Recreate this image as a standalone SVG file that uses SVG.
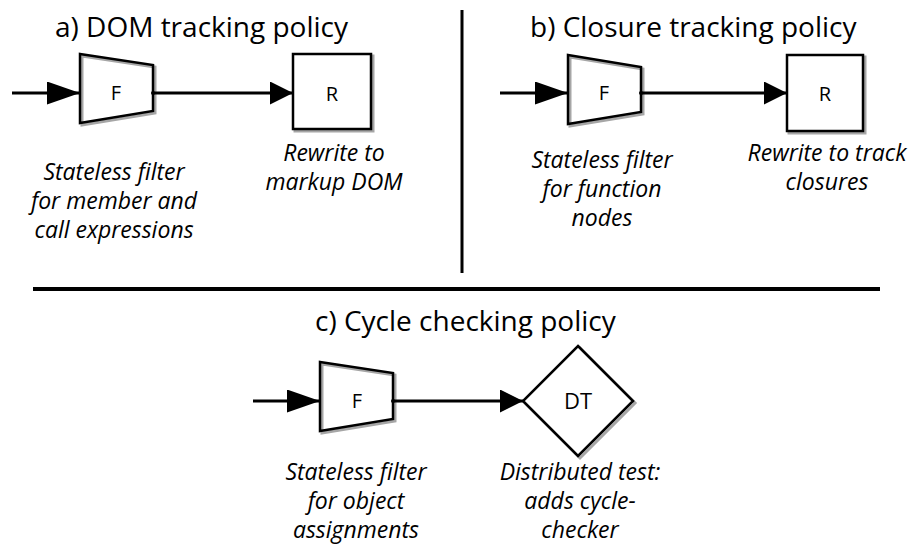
<svg xmlns="http://www.w3.org/2000/svg" width="915" height="550" viewBox="0 0 915 550">
<style>
.title{font-family:"Open Sans","Liberation Sans",sans-serif;font-size:28px;fill:#000}
.lbl{font-family:"Open Sans","Liberation Sans",sans-serif;font-style:italic;font-size:23px;fill:#000;text-anchor:middle}
.nt{font-family:"Open Sans","Liberation Sans",sans-serif;fill:#000;text-anchor:middle}
.shape{fill:#fff;stroke:#000;stroke-width:2.5}
.shadow{fill:none;stroke:#a6a6a6;stroke-width:3}
.edge{fill:none;stroke:#000;stroke-width:3}
.sep{stroke:#000;stroke-width:3}
</style>
<defs>
<marker id="arrIn" markerUnits="userSpaceOnUse" markerWidth="34" markerHeight="24" refX="33" refY="11.5" orient="auto">
<path d="M0,0 L33,11.5 L0,23 z" fill="#000"/>
</marker>
<marker id="arrOut" markerUnits="userSpaceOnUse" markerWidth="24" markerHeight="24" refX="23" refY="11.5" orient="auto">
<path d="M0,0 L23,11.5 L0,23 z" fill="#000"/>
</marker>
</defs>

<g id="separators">
<line class="sep" x1="462" y1="10" x2="462" y2="273"/>
<line class="sep" x1="33" y1="289" x2="880" y2="289" style="stroke-width:4"/>
</g>

<g id="titles">
<text class="title" x="55" y="37">a) DOM tracking policy</text>
<text class="title" x="530" y="37">b) Closure tracking policy</text>
<text class="title" x="315" y="331">c) Cycle checking policy</text>
</g>

<g id="a_F">
<path class="shadow" d="M82,56 L155,67 L155,113 L82,125 z"/>
<path class="shape" d="M80,54 L153,65 L153,111 L80,123 z" style="fill:none"/>
<text class="nt" x="116" y="100" font-size="20">F</text>
<text class="lbl" x="114" y="180">Stateless filter</text>
<text class="lbl" x="114" y="209">for member and</text>
<text class="lbl" x="114" y="238">call expressions</text>
</g>
<g id="a_R">
<rect class="shadow" x="295" y="56" width="78" height="75"/>
<rect class="shape" x="293" y="54" width="78" height="75"/>
<text class="nt" x="332" y="101" font-size="20">R</text>
<text class="lbl" x="334" y="161">Rewrite to</text>
<text class="lbl" x="334" y="190">markup DOM</text>
</g>

<g id="b_F">
<path class="shadow" d="M570,57 L643,69 L643,114 L570,126 z"/>
<path class="shape" d="M568,55 L641,67 L641,112 L568,124 z" style="fill:none"/>
<text class="nt" x="604" y="100" font-size="20">F</text>
<text class="lbl" x="602" y="168">Stateless filter</text>
<text class="lbl" x="602" y="197">for function</text>
<text class="lbl" x="602" y="226">nodes</text>
</g>
<g id="b_R">
<rect class="shadow" x="789" y="57" width="76" height="76"/>
<rect class="shape" x="787" y="55" width="76" height="76"/>
<text class="nt" x="825" y="101" font-size="20">R</text>
<text class="lbl" x="827" y="161">Rewrite to track</text>
<text class="lbl" x="827" y="190">closures</text>
</g>

<g id="c_F">
<path class="shadow" d="M322,364 L395,375 L395,421 L322,433 z"/>
<path class="shape" d="M320,362 L393,373 L393,419 L320,431 z" style="fill:none"/>
<text class="nt" x="357" y="408" font-size="20">F</text>
<text class="lbl" x="356" y="480">Stateless filter</text>
<text class="lbl" x="356" y="509">for object</text>
<text class="lbl" x="356" y="538">assignments</text>
</g>
<g id="c_DT">
<path class="shadow" d="M580,348 L635,403 L580,458 L525,403 z"/>
<path class="shape" d="M578,346 L633,401 L578,456 L523,401 z"/>
<text class="nt" x="578" y="409" font-size="22">DT</text>
<text class="lbl" x="580" y="480">Distributed test:</text>
<text class="lbl" x="580" y="509">adds cycle-</text>
<text class="lbl" x="580" y="538">checker</text>
</g>

<g id="connectors">
<line class="edge" x1="12" y1="93" x2="80" y2="93" marker-end="url(#arrIn)"/>
<line class="edge" x1="153" y1="93" x2="293" y2="93" marker-end="url(#arrOut)"/>
<circle cx="153" cy="93" r="2" fill="#000"/>
<line class="edge" x1="500" y1="93" x2="568" y2="93" marker-end="url(#arrIn)"/>
<line class="edge" x1="641" y1="93" x2="787" y2="93" marker-end="url(#arrOut)"/>
<circle cx="641" cy="93" r="2" fill="#000"/>
<line class="edge" x1="253" y1="401" x2="320" y2="401" marker-end="url(#arrIn)"/>
<line class="edge" x1="393" y1="401" x2="523" y2="401" marker-end="url(#arrOut)"/>
<circle cx="393" cy="401" r="2" fill="#000"/>
</g>
</svg>
